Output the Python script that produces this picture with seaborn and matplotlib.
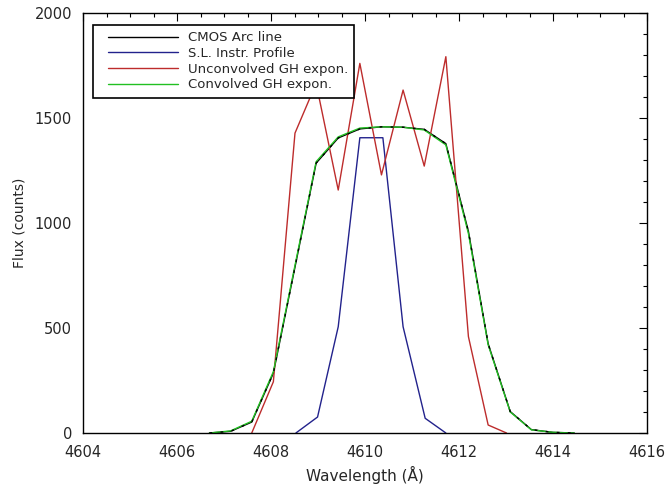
import numpy as np
import pandas as pd
import seaborn as sns
import matplotlib
matplotlib.use("Agg")
import matplotlib.pyplot as plt
from matplotlib.ticker import MultipleLocator
from matplotlib.lines import Line2D
from matplotlib.legend_handler import HandlerLine2D

# wavelength grid
wave = [4606.69, 4607.14, 4607.59, 4608.05, 4608.51, 4608.96, 4609.43, 4609.89,
        4610.35, 4610.81, 4611.26, 4611.72, 4612.20, 4612.62, 4613.09, 4613.54,
        4614.00, 4614.45]

# CMOS arc line (mostly hidden under the green curve)
arc_flux = [0, 8, 52, 285, 790, 1285, 1405, 1448, 1458, 1456, 1446, 1378, 960,
            425, 102, 16, 3, 0]
# Convolved GH expansion
conv_flux = [0, 10, 56, 292, 798, 1292, 1410, 1452, 1458, 1456, 1443, 1372, 950,
             420, 100, 15, 3, 0]

# unconvolved GH expansion
red_wave = [4607.59, 4608.05, 4608.51, 4608.96, 4609.43, 4609.89, 4610.35,
            4610.81, 4611.26, 4611.72, 4612.20, 4612.62, 4613.01]
red_flux = [0, 244, 1428, 1665, 1157, 1760, 1229, 1633, 1271, 1792, 459, 38, 0]

# S.L. instrumental profile
blue_wave = [4608.53, 4608.99, 4609.43, 4609.89, 4610.38, 4610.81, 4611.28, 4611.72]
blue_flux = [0, 76, 506, 1406, 1406, 506, 70, 0]

sns.set_theme(style="white")
plt.rcParams['font.family'] = ['DejaVu Sans']

fig = plt.figure(figsize=(6.7, 4.87), dpi=100)
ax = fig.add_axes([0.1239, 0.1109, 0.8418, 0.8624])

sns.lineplot(x=wave, y=arc_flux, ax=ax, color="black", lw=1.0, sort=False,
             label="CMOS Arc line")
sns.lineplot(x=blue_wave, y=blue_flux, ax=ax, color="#22228c", lw=1.0, sort=False,
             label="S.L. Instr. Profile")
sns.lineplot(x=red_wave, y=red_flux, ax=ax, color="#bd2c2c", lw=1.0, sort=False,
             label="Unconvolved GH expon.")
sns.lineplot(x=wave, y=conv_flux, ax=ax, color="#22c022", lw=1.0, sort=False,
             label="Convolved GH expon.")
# black dashes showing through the green curve
ax.plot(wave, arc_flux, color="black", lw=1.0, ls=(0, (2, 6)))

ax.set_xlim(4604, 4616)
ax.set_ylim(0, 2000)
ax.xaxis.set_major_locator(MultipleLocator(2))
ax.xaxis.set_minor_locator(MultipleLocator(0.5))
ax.yaxis.set_major_locator(MultipleLocator(500))
ax.yaxis.set_minor_locator(MultipleLocator(100))
ax.tick_params(which="both", direction="in", top=True, right=True,
               color="black", labelsize=10.5)
ax.tick_params(axis="x", which="major", pad=9)
ax.tick_params(axis="y", which="major", pad=8)
ax.tick_params(which="major", length=6, width=0.8)
ax.tick_params(which="minor", length=3, width=0.8)
for s in ax.spines.values():
    s.set_color("black")
    s.set_linewidth(1.0)

ax.set_xlabel("Wavelength (Å)", fontsize=11, labelpad=4)
ax.set_ylabel("Flux (counts)", fontsize=10, labelpad=6)

leg = ax.legend(loc="upper left", bbox_to_anchor=(0.018, 0.972), borderaxespad=0,
                fontsize=9.5, handlelength=5.9, handletextpad=0.75, labelspacing=0.2,
                frameon=True, fancybox=False, borderpad=0.5,
                handler_map={Line2D: HandlerLine2D(xpad=0.65)})
leg.get_frame().set_edgecolor("black")
leg.get_frame().set_linewidth(1.2)
leg.get_frame().set_alpha(1)

fig.savefig("out.png", dpi=100)
